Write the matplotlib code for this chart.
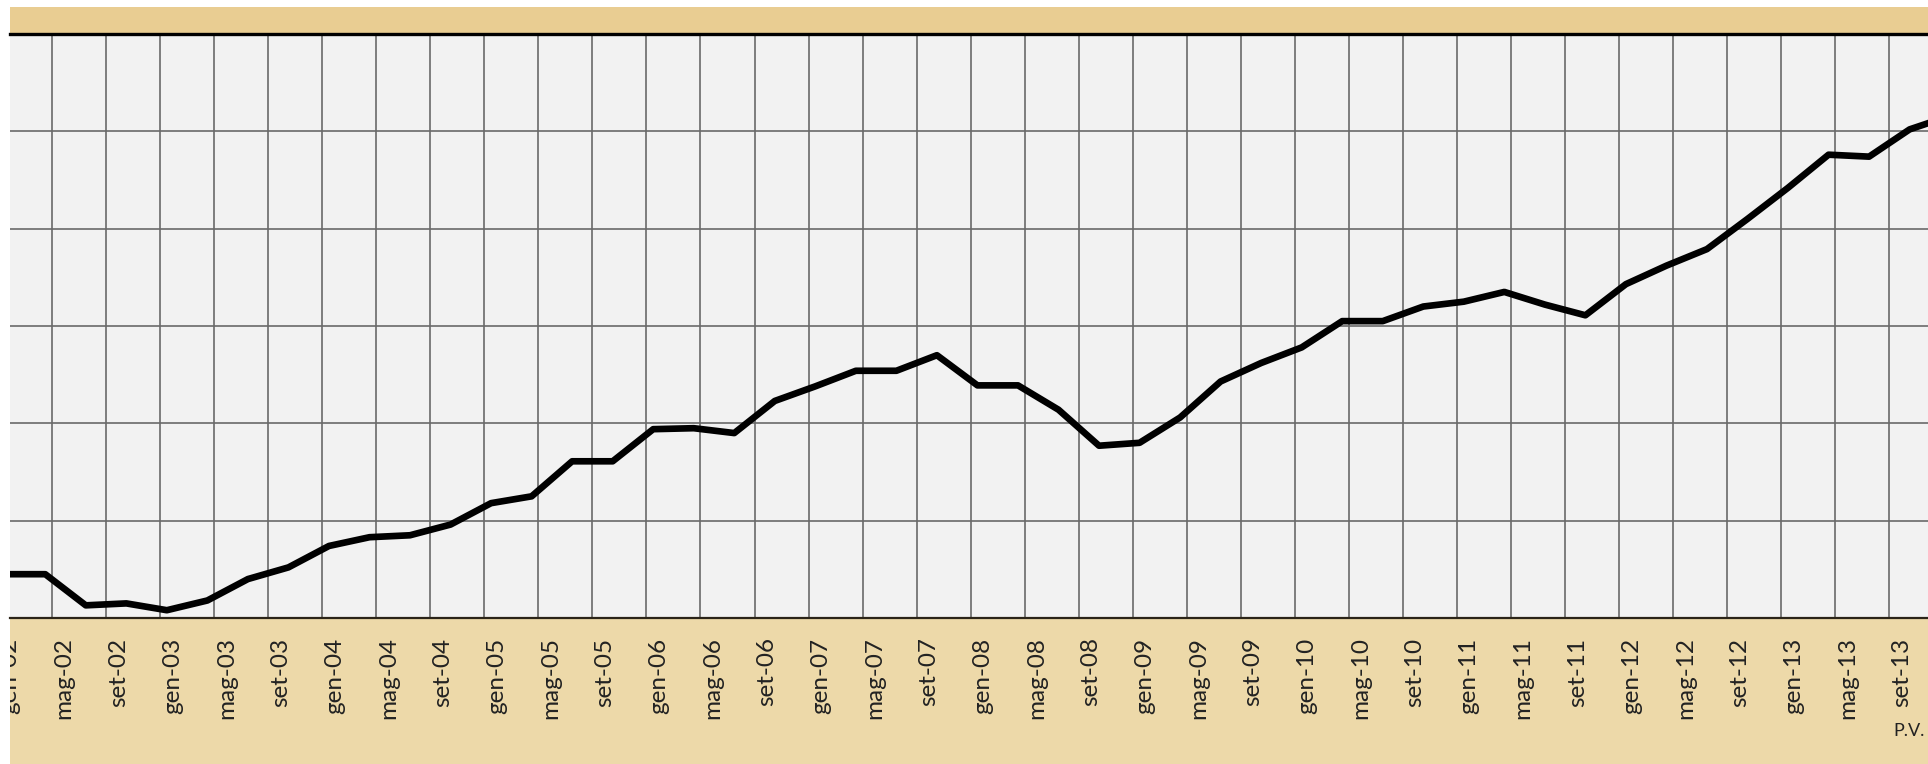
import matplotlib
matplotlib.use('Agg')
import matplotlib.pyplot as plt
import numpy as np

# quarterly series gen-02 .. gen-14 (months counted from gen-02), read in grid units
months = list(range(0, 145, 3))
values = [0.45, 0.45, 0.13, 0.15, 0.08, 0.18, 0.40, 0.52, 0.74, 0.83, 0.85, 0.96,
          1.18, 1.25, 1.61, 1.61, 1.94, 1.95, 1.90, 2.23, 2.38, 2.54, 2.54, 2.70,
          2.39, 2.39, 2.14, 1.77, 1.80, 2.06, 2.43, 2.62, 2.78, 3.05, 3.05, 3.20,
          3.25, 3.35, 3.22, 3.11, 3.43, 3.62, 3.79, 4.10, 4.42, 4.76, 4.74, 5.02, 5.16]

# axis labels every 4 months
label_months = ['gen', 'mag', 'set']
label_years = ['02', '03', '04', '05', '06', '07', '08', '09', '10', '11', '12', '13']
tick_labels = [m + '-' + y for y in label_years for m in label_months]

W, H = 1928, 764
fig = plt.figure(figsize=(W / 100, H / 100), dpi=100)

# parchment background (top strip a bit darker than the label band)
bg = fig.add_axes([10 / W, 0, 1 - 10 / W, 1 - 7 / H])
bg.set_facecolor('#EDD9A9')
bg.set_xlim(0, 1)
bg.set_ylim(0, 1)
bg.axhspan((618 - 7) / (H - 7), 1, color='#E9CD92', lw=0)
bg.set_xticks([])
bg.set_yticks([])
for s in bg.spines.values():
    s.set_visible(False)

ax = fig.add_axes([10 / W, 1 - 618 / H, 1 - 10 / W, (618 - 34) / H])
ax.set_facecolor('#F2F2F2')

x = np.array(months) + 0.5
ax.plot(x, values, color='black', lw=4.8, solid_joinstyle='round', zorder=3)

ax.set_xticks(np.arange(0, 144, 4), minor=True)
ax.set_xticks(np.arange(0, 141, 4) + 0.9)
ax.set_xticklabels(tick_labels, rotation=90, family='Lato', fontsize=17.5, color='#222222')
ax.set_yticks(np.arange(0, 7, 1))
ax.set_yticklabels([])
ax.set_xlim(0.89, 142.86)
ax.set_ylim(0, 6)
ax.tick_params(axis='both', which='both', length=0)
ax.tick_params(axis='x', which='major', pad=14)
ax.grid(True, which='minor', axis='x', color='#6a6a6a', lw=1.2)
ax.grid(True, which='major', axis='y', color='#6a6a6a', lw=1.2)
ax.grid(False, which='major', axis='x')
ax.set_axisbelow(True)

for s in ['left', 'right']:
    ax.spines[s].set_visible(False)
ax.spines['top'].set_color('black')
ax.spines['top'].set_linewidth(2.4)
ax.spines['bottom'].set_color('#2b2418')
ax.spines['bottom'].set_linewidth(1.6)

# labels cut at the left edge like the cropped screenshot
for lab in ax.get_xticklabels():
    lab.set_clip_path(bg.patch)

fig.text(1893 / W, 1 - 731 / H, 'P.V.', ha='left', va='center', fontsize=13,
         family='Lato', color='#222222')

fig.savefig('out.png', dpi=100)
